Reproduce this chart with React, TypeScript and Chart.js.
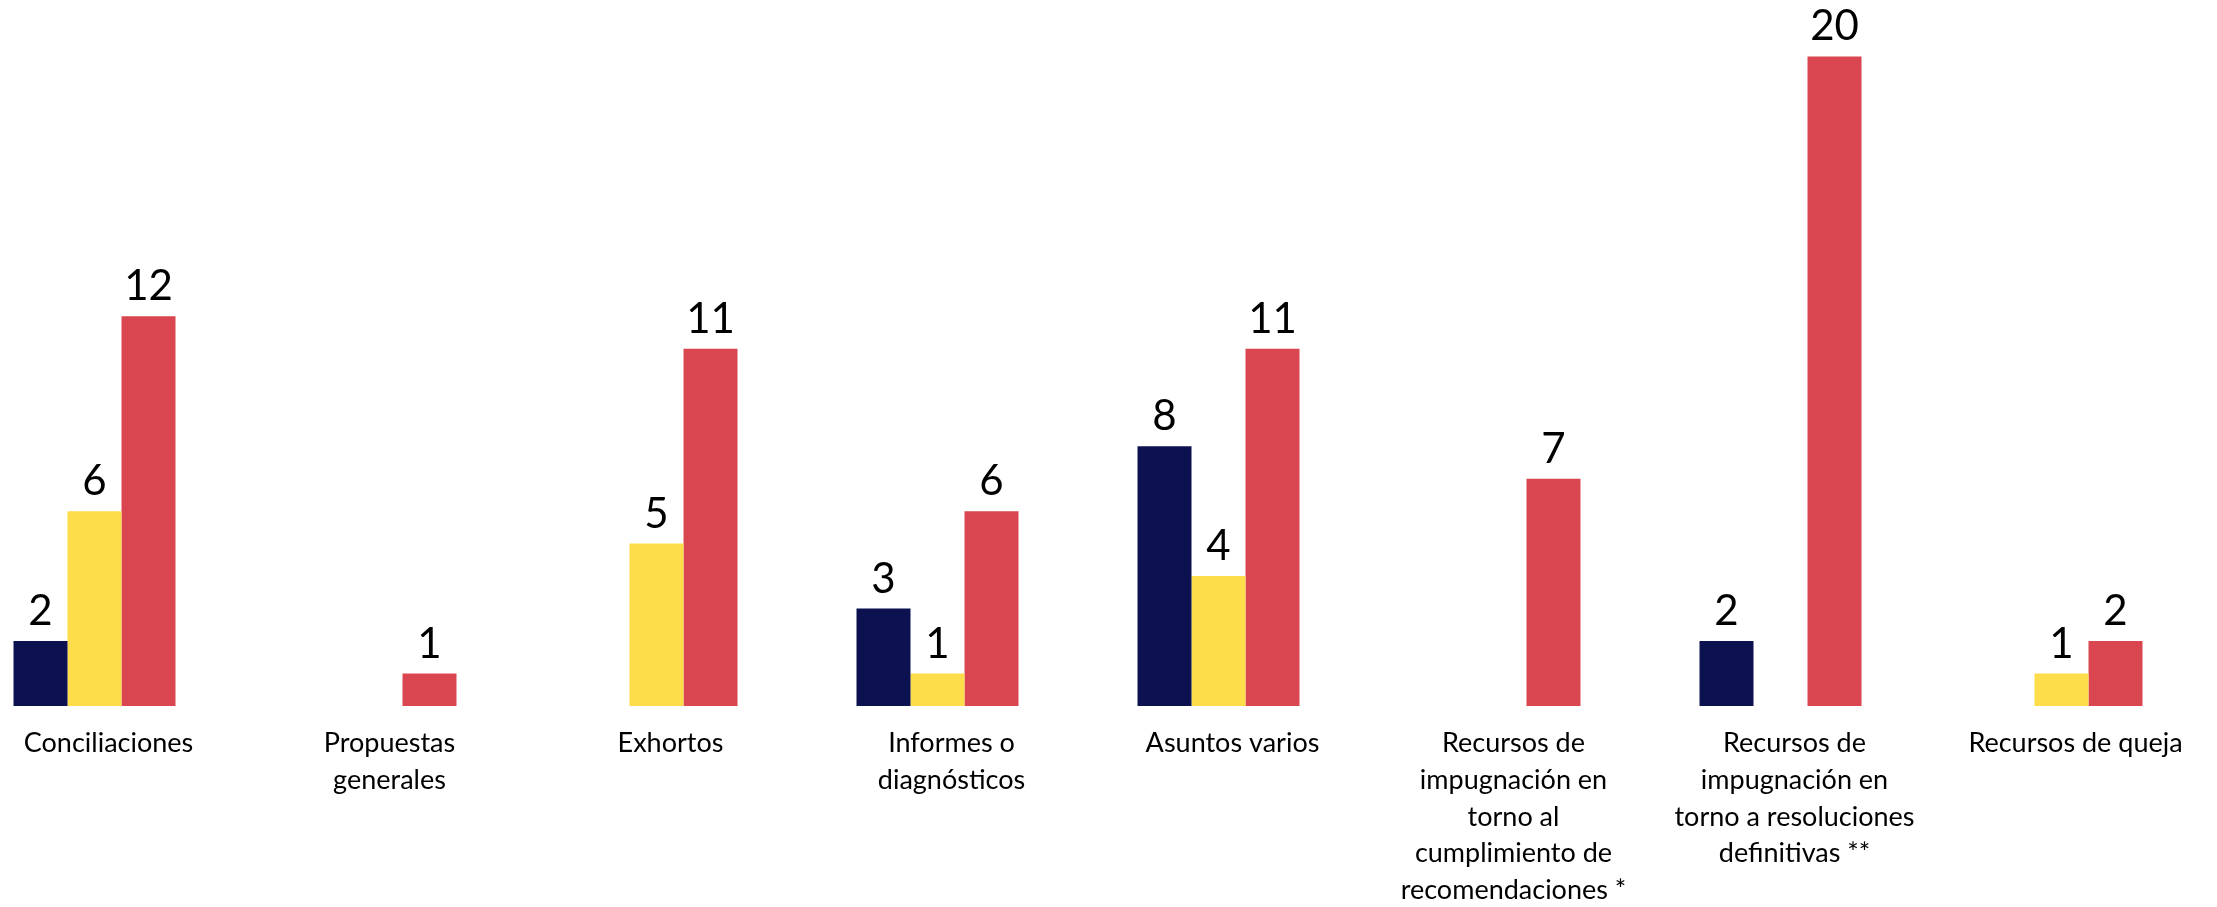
import React, { useEffect, useRef } from "react";
import { Chart, registerables } from "chart.js";

Chart.register(...registerables);

const categories: (string | string[])[] = [
  "Conciliaciones",
  ["Propuestas", "generales"],
  "Exhortos",
  ["Informes o", "diagnósticos"],
  "Asuntos varios",
  ["Recursos de", "impugnación en", "torno al", "cumplimiento de", "recomendaciones *"],
  ["Recursos de", "impugnación en", "torno a resoluciones", "definitivas **"],
  "Recursos de queja",
];

const seriesNavy: (number | null)[] = [2, null, null, 3, 8, null, 2, null];
const seriesYellow: (number | null)[] = [6, null, 5, 1, 4, null, null, 1];
const seriesRed: (number | null)[] = [12, 1, 11, 6, 11, 7, 20, 2];

const COLORS = ["#0C1150", "#FEDD4B", "#D94650"];
const FONT = "Lato, 'Open Sans', sans-serif";

const valueLabels = {
  id: "valueLabels",
  afterDatasetsDraw(chart: any) {
    const ctx = chart.ctx;
    ctx.save();
    ctx.font = `42px ${FONT}`;
    ctx.fillStyle = "#000000";
    ctx.textAlign = "center";
    ctx.textBaseline = "alphabetic";
    chart.data.datasets.forEach((ds: any, i: number) => {
      const meta = chart.getDatasetMeta(i);
      meta.data.forEach((bar: any, j: number) => {
        const v = ds.data[j];
        if (v === null || v === undefined) return;
        ctx.fillText(String(v), bar.x, bar.y - 16);
      });
    });
    ctx.restore();
  },
};

export default function App() {
  const ref = useRef<HTMLCanvasElement | null>(null);
  useEffect(() => {
    if (!ref.current) return;
    const chart = new Chart(ref.current, {
      type: "bar",
      data: {
        labels: categories,
        datasets: [
          { label: "A", data: seriesNavy, backgroundColor: COLORS[0] },
          { label: "B", data: seriesYellow, backgroundColor: COLORS[1] },
          { label: "C", data: seriesRed, backgroundColor: COLORS[2] },
        ],
      },
      options: {
        animation: false,
        responsive: false,
        maintainAspectRatio: false,
        layout: { padding: { top: 24, left: 0, right: 0, bottom: 0 } },
        plugins: { legend: { display: false }, tooltip: { enabled: false } },
        datasets: { bar: { barPercentage: 1, categoryPercentage: 0.5765 } },
        scales: {
          x: {
            grid: { display: false },
            border: { display: false },
            ticks: {
              color: "#000000",
              font: { family: FONT, size: 27, lineHeight: 1.36 },
              padding: 11,
              labelOffset: 14,
              maxRotation: 0,
              minRotation: 0,
              autoSkip: false,
            },
            afterFit: (scale: any) => {
              scale.height = 201;
            },
          },
          y: {
            display: false,
            min: 0,
            max: 21,
          },
        },
      },
      plugins: [valueLabels],
    });
    return () => chart.destroy();
  }, []);
  return (
    <div style={{ position: "absolute", left: -46, top: 0, width: 2248, height: 907 }}>
      <canvas ref={ref} width={2248} height={907} style={{ width: 2248, height: 907 }} />
    </div>
  );
}
